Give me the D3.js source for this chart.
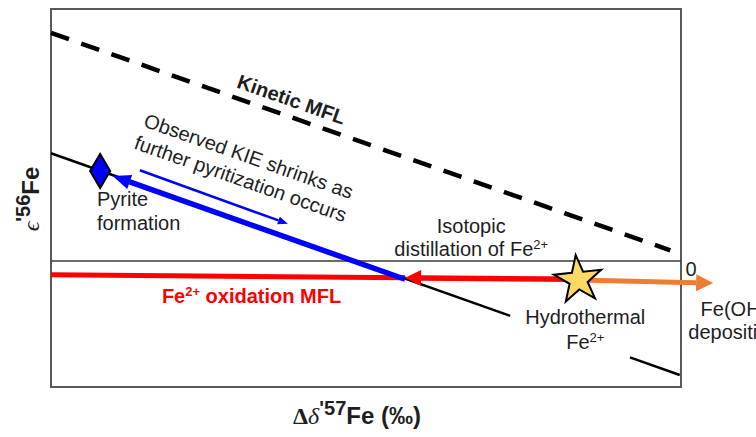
<!DOCTYPE html>
<html lang="en">
<head>
<meta charset="UTF-8">
<title>Fe isotope mass-fractionation lines</title>
<script src="https://cdn.jsdelivr.net/npm/d3@7"></script>
<style>
  body { margin: 0; background: #fff; }
  svg text { font-family: "Liberation Sans", Arial, sans-serif; }
  .note { font-size: 20px; fill: #1e1e1e; }
  .bold { font-weight: bold; }
  .serif { font-family: "Liberation Serif", "Times New Roman", serif; }
</style>
</head>
<body>
<svg id="chart" width="756" height="437"></svg>
<script>
// schematic units: x = Δδ'57Fe, y = ε'56Fe (0 is the thin line / right edge)
const xDomain = [-10, 0]
const yDomain = [-2, 4]

const kineticMFL = [[-10, 3.62], [-0.17, 0.17]]
const pyriteMFL = [[-10, 1.71], [-2.71, -0.87]]
const pyriteMFLTail = [[-0.81, -1.53], [-0.02, -1.81]]
const oxidationMFL = [[-1.63, -0.29], [-4.38, -0.267]]
const oxidationTail = [[-4.38, -0.267], [-10, -0.22]]
const kieArrow = [[-4.38, -0.29], [-9.02, 1.35]]
const shrinkArrow = [[-8.59, 1.44], [-6.24, 0.59]]
const depositArrow = [[-1.63, -0.30], [0.51, -0.35]]
const hydrothermalFe = [-1.63, -0.30]
const pyriteFe = [-9.22, 1.43]

const svg = d3.select("#chart")
const x = d3.scaleLinear().domain(xDomain).range([51, 681])
const y = d3.scaleLinear().domain(yDomain).range([387, 9])
const line = d3.line().x(d => x(d[0])).y(d => y(d[1]))

// frame + zero line
svg.append("rect")
    .attr("x", x(xDomain[0])).attr("y", y(yDomain[1]))
    .attr("width", x(xDomain[1]) - x(xDomain[0]))
    .attr("height", y(yDomain[0]) - y(yDomain[1]))
    .attr("fill", "none").attr("stroke", "#595959").attr("stroke-width", 2)
svg.append("path").attr("d", line([[xDomain[0], 0], [xDomain[1], 0]]))
    .attr("stroke", "#3a3a3a").attr("stroke-width", 1.4).attr("fill", "none")

// line with a triangular head at the last point
function arrow(pts, color, w, headLen, headW) {
    const p0 = [x(pts[0][0]), y(pts[0][1])]
    const p1 = [x(pts[1][0]), y(pts[1][1])]
    const a = Math.atan2(p1[1] - p0[1], p1[0] - p0[0])
    const base = [p1[0] - headLen * Math.cos(a), p1[1] - headLen * Math.sin(a)]
    svg.append("path").attr("d", d3.line()([p0, base]))
        .attr("stroke", color).attr("stroke-width", w).attr("fill", "none")
    const nx = -Math.sin(a) * headW / 2, ny = Math.cos(a) * headW / 2
    svg.append("path")
        .attr("d", d3.line()([p1, [base[0] + nx, base[1] + ny], [base[0] - nx, base[1] - ny]]) + "Z")
        .attr("fill", color)
}

// equilibrium line through pyrite
svg.append("path").attr("d", line(pyriteMFL)).attr("stroke", "#000").attr("stroke-width", 2.5).attr("fill", "none")
svg.append("path").attr("d", line(pyriteMFLTail)).attr("stroke", "#000").attr("stroke-width", 2.5).attr("fill", "none")

// kinetic MFL
svg.append("path").attr("d", line(kineticMFL))
    .attr("stroke", "#000").attr("stroke-width", 4.5).attr("stroke-dasharray", "19 13").attr("fill", "none")

// Fe2+ oxidation
svg.append("path").attr("d", line(oxidationTail)).attr("stroke", "#ff0000").attr("stroke-width", 5).attr("fill", "none")
arrow(oxidationMFL, "#ff0000", 5.5, 16, 16)
arrow(depositArrow, "#ed7d31", 5, 17, 17)

// pyritization
arrow(kieArrow, "#0000ff", 5.5, 18, 15)
arrow(shrinkArrow, "#0000ff", 2.5, 10, 8)

// diamond
const dx = x(pyriteFe[0]), dy = y(pyriteFe[1])
svg.append("path")
    .attr("d", d3.line()([[dx, dy - 17], [dx + 10, dy], [dx, dy + 17], [dx - 10, dy]]) + "Z")
    .attr("fill", "#0000ff").attr("stroke", "#000").attr("stroke-width", 2)

// star
svg.append("path")
    .attr("d", d3.symbol(d3.symbolStar, 700)())
    .attr("transform", `translate(${x(hydrothermalFe[0])},${y(hydrothermalFe[1])}) rotate(-6)`)
    .attr("fill", "#ffd966").attr("stroke", "#000").attr("stroke-width", 2)

// text helper: parts = [[str, sup?, back-down?]]
function label(px, py, parts, cls, anchor, rot, color) {
    const t = svg.append("text").attr("class", cls).attr("text-anchor", anchor || "start")
        .attr("transform", `translate(${px},${py})` + (rot ? ` rotate(${rot})` : ""))
    if (color) t.style("fill", color)
    parts.forEach(p => {
        const s = t.append("tspan").text(p[0])
        if (p[1]) s.attr("font-size", 13).attr("dy", -7)
        else if (p[2]) s.attr("dy", 7)
    })
    return t
}

const ang = Math.atan2(y(kineticMFL[1][1]) - y(kineticMFL[0][1]), x(kineticMFL[1][0]) - x(kineticMFL[0][0])) * 180 / Math.PI

label(x(-6.22), y(2.46), [["Kinetic MFL"]], "note bold", "middle", ang)
label(x(-6.9), y(1.56), [["Observed KIE shrinks as"]], "note", "middle", ang)
svg.append("text").attr("class", "note").attr("text-anchor", "middle")
    .attr("transform", `translate(${x(-6.9)},${y(1.56)}) rotate(${ang}) translate(0,24)`)
    .text("further pyritization occurs")

label(x(-9.27), y(0.87), [["Pyrite"]], "note")
label(x(-9.27), y(0.49), [["formation"]], "note")

label(x(-3.33), y(0.44), [["Isotopic"]], "note", "middle")
label(x(-3.33), y(0.08), [["distillation of Fe"], ["2+", true]], "note", "middle")

label(x(-8.24), y(-0.67), [["Fe"], ["2+", true], [" oxidation MFL", false, true]], "note bold", "start", 0, "#ff0000")

label(x(-1.52), y(-1.0), [["Hydrothermal"]], "note", "middle")
label(x(-1.52), y(-1.4), [["Fe"], ["2+", true]], "note", "middle")

label(x(0.07), y(-0.24), [["0"]], "note")
label(x(0.84), y(-0.87), [["Fe(OH)"]], "note", "middle")
label(x(0.84), y(-1.24), [["deposition"]], "note", "middle")

// axis titles
const xt = svg.append("text").attr("text-anchor", "middle").attr("x", 357).attr("y", 424)
    .attr("font-size", 24).attr("font-weight", "bold").attr("fill", "#1e1e1e")
xt.append("tspan").attr("class", "serif").text("Δ")
xt.append("tspan").attr("class", "serif").attr("font-style", "italic").attr("font-weight", "normal").text("δ")
xt.append("tspan").attr("font-size", 20).attr("dy", -9).text("'57")
xt.append("tspan").attr("dy", 9).text("Fe (‰)")

const yt = svg.append("text").attr("text-anchor", "middle")
    .attr("transform", "translate(39,199) rotate(-90)")
    .attr("font-size", 24).attr("font-weight", "bold").attr("fill", "#1e1e1e")
yt.append("tspan").attr("class", "serif").attr("font-style", "italic").attr("font-weight", "normal").text("ϵ")
yt.append("tspan").attr("font-size", 20).attr("dy", -9).text("'56")
yt.append("tspan").attr("dy", 9).text("Fe")
</script>
</body>
</html>
